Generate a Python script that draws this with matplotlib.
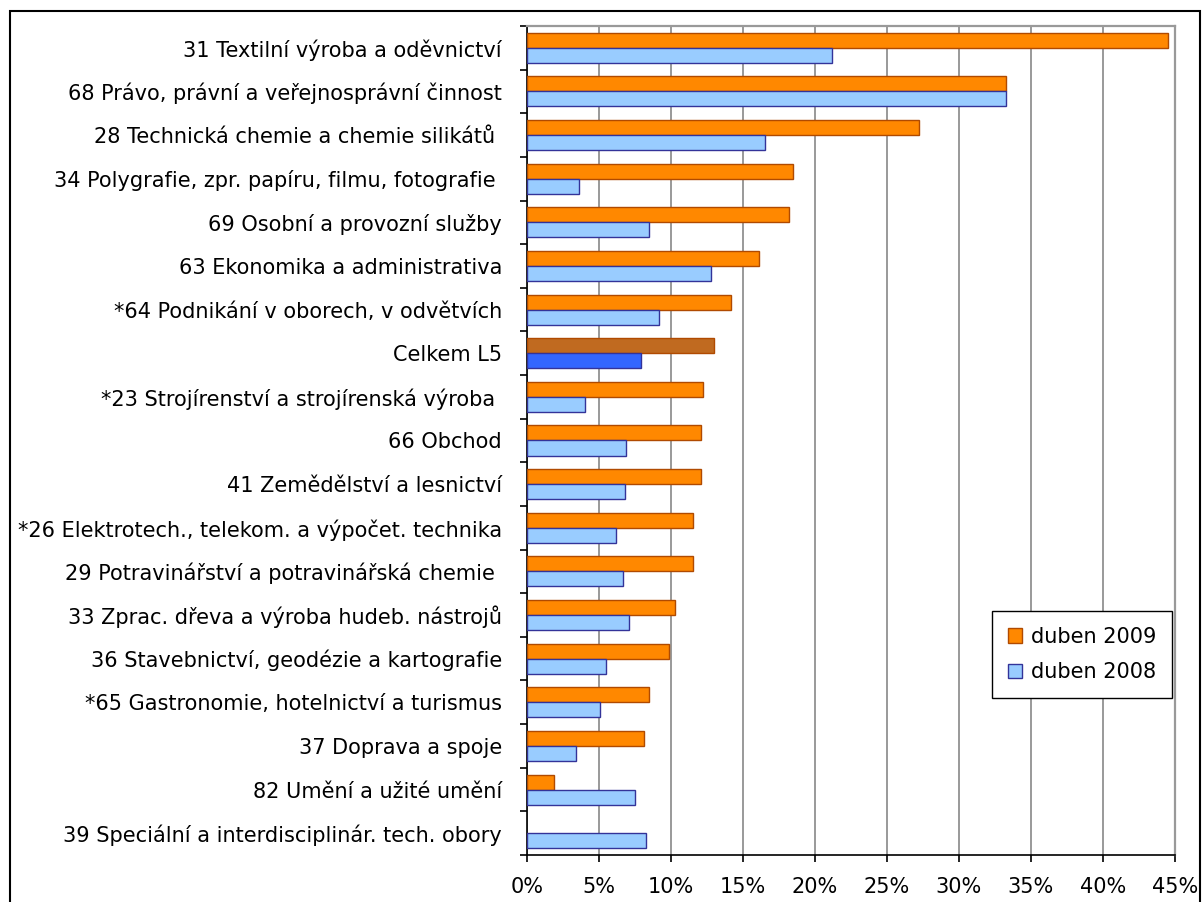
import numpy as np
import matplotlib
matplotlib.use("Agg")
import matplotlib.pyplot as plt
from matplotlib.patches import Rectangle, Patch
from matplotlib.ticker import FuncFormatter, MultipleLocator

# Obory (shora dolu)
obory = [
    "31 Textilní výroba a oděvnictví",
    "68 Právo, právní a veřejnosprávní činnost",
    "28 Technická chemie a chemie silikátů ",
    "34 Polygrafie, zpr. papíru, filmu, fotografie ",
    "69 Osobní a provozní služby",
    "63 Ekonomika a administrativa",
    "*64 Podnikání v oborech, v odvětvích",
    "Celkem L5",
    "*23 Strojírenství a strojírenská výroba ",
    "66 Obchod",
    "41 Zemědělství a lesnictví",
    "*26 Elektrotech., telekom. a výpočet. technika",
    "29 Potravinářství a potravinářská chemie ",
    "33 Zprac. dřeva a výroba hudeb. nástrojů",
    "36 Stavebnictví, geodézie a kartografie",
    "*65 Gastronomie, hotelnictví a turismus",
    "37 Doprava a spoje",
    "82 Umění a užité umění",
    "39 Speciální a interdisciplinár. tech. obory",
]

# podily v %
duben_2009 = [44.5, 33.3, 27.2, 18.5, 18.2, 16.1, 14.2, 13.0, 12.2, 12.1,
              12.1, 11.5, 11.5, 10.3, 9.9, 8.5, 8.1, 1.9, 0.0]
duben_2008 = [21.2, 33.3, 16.5, 3.6, 8.5, 12.8, 9.2, 7.9, 4.0, 6.9,
              6.8, 6.2, 6.7, 7.1, 5.5, 5.1, 3.4, 7.5, 8.3]

plt.rcParams['font.family'] = ['DejaVu Sans']
fs = 15

fig = plt.figure(figsize=(12.03, 9.02), dpi=100)
ax = fig.add_axes([0.438, 0.0521, 0.5387, 0.9191])

y = np.arange(len(obory))
h = 0.345

barvy_o = ["#FF8800"] * len(obory)
barvy_b = ["#99CCFF"] * len(obory)
i_celkem = obory.index("Celkem L5")
barvy_o[i_celkem] = "#C06A20"
barvy_b[i_celkem] = "#3366FF"

for i in range(len(obory)):
    if duben_2009[i] > 0:
        ax.barh(y[i] - h / 2, duben_2009[i], height=h, color=barvy_o[i],
                edgecolor="#B04A00", linewidth=1, zorder=3)
    ax.barh(y[i] + h / 2, duben_2008[i], height=h, color=barvy_b[i],
            edgecolor="#333399", linewidth=1, zorder=3)

ax.set_xlim(0, 45)
ax.set_ylim(len(obory) - 0.5, -0.5)
ax.xaxis.set_major_locator(MultipleLocator(5))
ax.xaxis.set_major_formatter(FuncFormatter(lambda v, p: f"{v:.0f}%"))
ax.grid(axis="x", color="#999999", linewidth=1.4, zorder=1)

ax.set_yticks(y)
ax.set_yticklabels(obory, fontsize=fs)
ax.set_yticks(np.arange(len(obory) + 1) - 0.5, minor=True)
ax.tick_params(axis="y", which="major", length=0, pad=18)
ax.tick_params(axis="y", which="minor", length=5, width=1.2, direction="out")
ax.tick_params(axis="x", length=5, width=1.2, labelsize=fs, pad=11)

for s in ["top", "right"]:
    ax.spines[s].set_color("#999999")
    ax.spines[s].set_linewidth(1.6)
ax.spines["left"].set_linewidth(1.2)
ax.spines["bottom"].set_linewidth(1.2)

# legenda
handles = [Patch(facecolor="#FF8800", edgecolor="#B04A00"),
           Patch(facecolor="#99CCFF", edgecolor="#333399")]
leg = fig.legend(handles, ["duben 2009", "duben 2008"], loc="upper left",
                 bbox_to_anchor=(0.8246, 0.3226), fontsize=fs, fancybox=False,
                 edgecolor="black", framealpha=1, handlelength=0.7,
                 handleheight=0.7, handletextpad=0.4, labelspacing=0.75,
                 borderpad=0.75, borderaxespad=0)
leg.get_frame().set_linewidth(1)

# ramecek grafu
fig.patches.append(Rectangle((10 / 1203, -0.05), 1190 / 1203, 1 - 11 / 902 + 0.05,
                             transform=fig.transFigure, fill=False,
                             edgecolor="black", linewidth=1.5))

fig.savefig("out.png", dpi=100)
